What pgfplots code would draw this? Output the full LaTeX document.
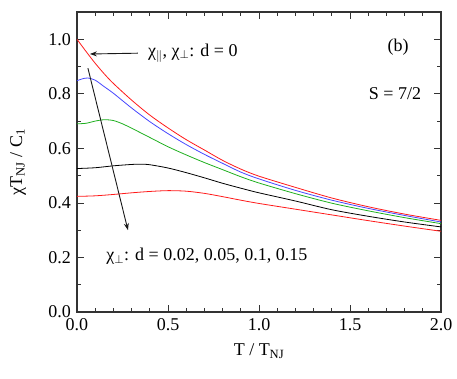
\documentclass[border=0pt]{standalone}
\usepackage{fontspec}
\setmainfont{Liberation Serif}
\usepackage{pgfplots}
\pgfplotsset{compat=1.18}
\usetikzlibrary{calc,arrows.meta}

\definecolor{cred}{RGB}{255,25,25}
\definecolor{cblue}{RGB}{70,70,255}
\definecolor{cgreen}{RGB}{30,175,30}

\begin{document}
\fontsize{18}{21}\selectfont
\begin{tikzpicture}
\begin{axis}[
    name=ax,
    scale only axis,
    width=364pt, height=300pt,
    xmin=0, xmax=2, ymin=0, ymax=1.1,
    xtick={0,0.5,1,1.5,2},
    ytick={0,0.2,0.4,0.6,0.8,1.0},
    minor xtick={0.1,0.2,...,1.9},
    minor ytick={0.1,0.3,0.5,0.7,0.9},
    xticklabel style={/pgf/number format/.cd,fixed,fixed zerofill,precision=1},
    yticklabel style={/pgf/number format/.cd,fixed,fixed zerofill,precision=1},
    /pgf/number format/assume math mode=true,
    tick align=inside,
    major tick length=7pt, minor tick length=4pt,
    every tick/.style={gray!40!black, line width=0.8pt},
    axis line style={gray!40!black, line width=1.1pt},
    ticklabel style={font=\fontsize{18}{21}\selectfont},
    xlabel={T / T\textsubscript{NJ}},
    ylabel={χT\textsubscript{NJ} / C\textsubscript{1}},
    label style={font=\fontsize{18}{21}\selectfont},
    xlabel style={at={(axis description cs:0.5,-0.13)}, anchor=center},
    ylabel style={at={(axis description cs:-0.162,0.5)}, anchor=center},
    clip=true,
]
% d = 0 (chi_par, chi_perp)
\addplot[cred, line width=0.8pt, smooth] coordinates {
 (0,1.000) (0.05,0.955) (0.1,0.912) (0.15,0.873) (0.2,0.838) (0.3,0.777)
 (0.4,0.722) (0.5,0.675) (0.6,0.632) (0.7,0.594) (0.8,0.556) (0.9,0.524)
 (1.0,0.498) (1.2,0.457) (1.4,0.418) (1.6,0.386) (1.8,0.359) (2.0,0.336)
};
% d = 0.02
\addplot[cblue, line width=0.8pt, smooth] coordinates {
 (0,0.848) (0.03,0.855) (0.06,0.858) (0.1,0.850) (0.15,0.826) (0.2,0.802)
 (0.3,0.748) (0.4,0.698) (0.5,0.654) (0.6,0.614) (0.7,0.578) (0.8,0.545)
 (0.9,0.513) (1.0,0.488) (1.2,0.446) (1.4,0.410) (1.6,0.380) (1.8,0.354) (2.0,0.330)
};
% d = 0.05
\addplot[cgreen, line width=0.8pt, smooth] coordinates {
 (0,0.690) (0.05,0.692) (0.1,0.700) (0.15,0.705) (0.2,0.702) (0.25,0.690)
 (0.3,0.674) (0.4,0.640) (0.5,0.606) (0.6,0.576) (0.7,0.548) (0.8,0.522)
 (0.9,0.496) (1.0,0.473) (1.2,0.434) (1.4,0.399) (1.6,0.371) (1.8,0.346) (2.0,0.324)
};
% d = 0.1
\addplot[black, line width=0.8pt, smooth] coordinates {
 (0,0.526) (0.1,0.529) (0.2,0.536) (0.3,0.541) (0.35,0.542) (0.4,0.540)
 (0.5,0.528) (0.6,0.511) (0.7,0.492) (0.8,0.472) (0.9,0.454) (1.0,0.437)
 (1.2,0.407) (1.4,0.375) (1.6,0.351) (1.8,0.330) (2.0,0.312)
};
% d = 0.15
\addplot[cred, line width=0.8pt, smooth] coordinates {
 (0,0.424) (0.1,0.426) (0.2,0.431) (0.3,0.437) (0.4,0.442) (0.5,0.445)
 (0.6,0.443) (0.7,0.435) (0.8,0.423) (0.9,0.410) (1.0,0.398) (1.2,0.377)
 (1.4,0.356) (1.6,0.335) (1.8,0.315) (2.0,0.296)
};

\draw[-{Stealth[length=7pt,width=5pt]}, line width=0.9pt, gray!20!black]
  (axis cs:0.335,0.949) -- (axis cs:0.071,0.946);
\draw[-{Stealth[length=7pt,width=5pt]}, line width=0.9pt, gray!20!black]
  (axis cs:0.06,0.894) -- (axis cs:0.28,0.30);
\node[anchor=west, inner sep=0pt] at (axis cs:0.39,0.949)
  {χ$_\parallel$, χ$_\perp$: d = 0};
\node[anchor=west, inner sep=0pt] at (axis cs:0.16,0.205)
  {χ$_\perp$: d = 0.02, 0.05, 0.1, 0.15};
\node at (axis cs:1.764,0.971) {(b)};
\node at (axis cs:1.747,0.802) {S = 7/2};
\end{axis}
\pgfresetboundingbox
\path ($(ax.south west)+(-77pt,-66pt)$) rectangle ($(ax.north east)+(16pt,12pt)$);
\end{tikzpicture}
\end{document}
